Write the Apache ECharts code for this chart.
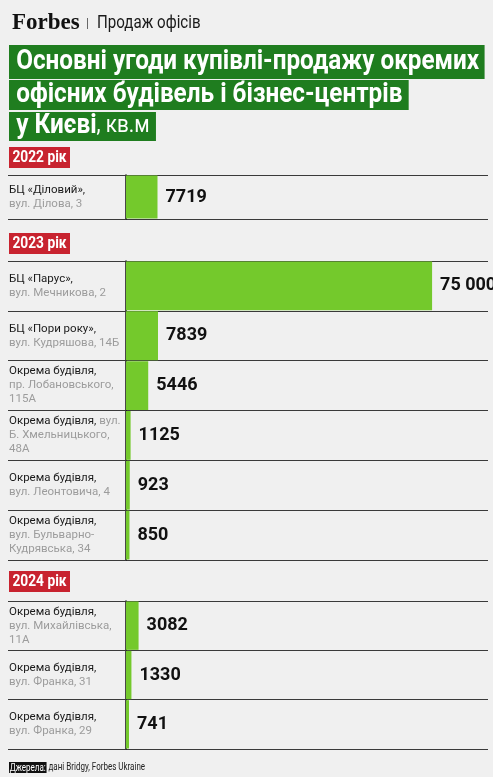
<!DOCTYPE html>
<html>
<head>
<meta charset="utf-8">
<script src="https://cdn.jsdelivr.net/npm/echarts@6.0.0/dist/echarts.min.js"></script>
<style>
html, body { margin: 0; padding: 0; background: #f0f0f0; }
#main { width: 493px; height: 777px; }
</style>
</head>
<body>
<div id="main"></div>
<script>
// дані по роках: назва об'єкта, адреса, площа (кв.м)
var years = ['2022 рік', '2023 рік', '2024 рік'];

var names2022 = ['БЦ «Діловий»,'];
var addr2022 = ['вул. Ділова, 3'];
var values2022 = [7719];

var names2023 = ['БЦ «Парус»,', 'БЦ «Пори року»,', 'Окрема будівля,', 'Окрема будівля,', 'Окрема будівля,', 'Окрема будівля,'];
var addr2023 = ['вул. Мечникова, 2', 'вул. Кудряшова, 14Б', 'пр. Лобановського,\n115А', 'вул.\nБ. Хмельницького,\n48А', 'вул. Леонтовича, 4', 'вул. Бульварно-\nКудрявська, 34'];
var inline2023 = [false, false, false, true, false, false];
var values2023 = [75000, 7839, 5446, 1125, 923, 850];

var names2024 = ['Окрема будівля,', 'Окрема будівля,', 'Окрема будівля,'];
var addr2024 = ['вул. Михайлівська,\n11А', 'вул. Франка, 31', 'вул. Франка, 29'];
var values2024 = [3082, 1330, 741];

var FONT = 'Roboto, sans-serif';
var NARROW = 0.88;     // вузький шрифт імітуємо стисненням по X
var AXIS_X = 126;      // де починаються стовпчики
var RIGHT_X = 488;     // кінець горизонтальних ліній
var X_MAX = 88700;     // так, щоб 75 000 закінчувалось біля 432px

var myChart = echarts.init(document.getElementById('main'));

function fmt(v) {
    if (v >= 10000) {
        return String(v).replace(/\B(?=(\d{3})+(?!\d))/g, ' ');
    }
    return String(v);
}

// підпис рядка: чорна назва + сіра адреса
function rowLabel(names, inline) {
    return function (value, index) {
        var lines = value.split('\n');
        var first = '{n|' + names[index] + '}';
        if (inline && inline[index]) {
            first += '{a| ' + lines.shift() + '}';
        }
        return [first].concat(lines.map(function (l) { return '{a|' + l + '}'; })).join('\n');
    }
}

function makeGrid(top, height) {
    return { left: AXIS_X, width: RIGHT_X - AXIS_X, top: top, height: height, outerBoundsMode: 'none', containLabel: false };
}

function makeXAxis(i) {
    return { gridIndex: i, type: 'value', min: 0, max: X_MAX, show: false };
}

function makeYAxis(i, addr, names, inline) {
    return {
        gridIndex: i,
        type: 'category',
        inverse: true,
        data: addr,
        axisLine: { show: true, lineStyle: { color: '#111', width: 1.5 } },
        axisTick: { show: true, interval: 0, length: AXIS_X - 8, lineStyle: { color: '#3a3a3a', width: 1 } },
        splitLine: { show: true, interval: 0, lineStyle: { color: '#3a3a3a', width: 1 } },
        axisLabel: {
            interval: 0,
            align: 'left',
            margin: AXIS_X - 9,
            formatter: rowLabel(names, inline),
            rich: {
                n: { color: '#1a1a1a', fontSize: 11.5, fontFamily: FONT, lineHeight: 14 },
                a: { color: '#9c9c9c', fontSize: 11.5, fontFamily: FONT, lineHeight: 14 }
            }
        }
    };
}

function makeSeries(i, values) {
    return {
        type: 'bar',
        xAxisIndex: i,
        yAxisIndex: i,
        data: values,
        barCategoryGap: '2%',
        itemStyle: { color: '#74c92c' },
        silent: true,
        label: {
            show: true,
            position: 'right',
            distance: 8,
            formatter: function (p) { return fmt(p.value); },
            color: '#111',
            fontSize: 18,
            fontWeight: 'bold',
            fontFamily: FONT
        }
    };
}

function yearTag(text, top) {
    return {
        type: 'text', left: 9, top: top, scaleX: 0.86,
        style: {
            text: text, fill: '#fff', font: 'bold 16px ' + FONT,
            backgroundColor: '#c8232f', padding: [3, 4, 2, 4]
        }
    };
}

var option = {
    backgroundColor: '#f0f0f0',
    animation: false,
    grid: [makeGrid(175, 44), makeGrid(261, 299), makeGrid(601, 148)],
    xAxis: [makeXAxis(0), makeXAxis(1), makeXAxis(2)],
    yAxis: [
        makeYAxis(0, addr2022, names2022),
        makeYAxis(1, addr2023, names2023, inline2023),
        makeYAxis(2, addr2024, names2024)
    ],
    series: [makeSeries(0, values2022), makeSeries(1, values2023), makeSeries(2, values2024)],
    graphic: [
        { type: 'text', left: 12, top: 12, style: { text: 'Forbes', fill: '#111', font: 'bold 23px "Liberation Serif", serif' } },
        { type: 'text', left: 86, top: 18, style: { text: '|', fill: '#555', font: '12px ' + FONT } },
        { type: 'text', left: 97, top: 14, scaleX: 0.84, style: { text: 'Продаж офісів', fill: '#1a1a1a', font: '18px ' + FONT } },
        // заголовок
        {
            type: 'text', left: 9, top: 45, scaleX: 0.9,
            style: {
                text: 'Основні угоди купівлі-продажу окремих', fill: '#fff', font: 'bold 27px ' + FONT,
                backgroundColor: '#1f7d1f', padding: [4, 6, 3, 8]
            }
        },
        {
            type: 'text', left: 9, top: 80, scaleX: 0.9,
            style: {
                text: 'офісних будівель і бізнес-центрів', fill: '#fff', font: 'bold 27px ' + FONT,
                backgroundColor: '#1f7d1f', padding: [2, 7, 1, 8]
            }
        },
        {
            type: 'text', left: 9, top: 112, scaleX: 0.9,
            style: {
                text: '{b|у Києві}{r|, кв.м}',
                backgroundColor: '#1f7d1f', padding: [1, 7, 1, 8],
                rich: {
                    b: { fill: '#fff', fontSize: 27, fontWeight: 'bold', fontFamily: FONT },
                    r: { fill: '#fff', fontSize: 23, fontFamily: FONT }
                }
            }
        },
        yearTag(years[0], 147),
        yearTag(years[1], 233),
        yearTag(years[2], 571),
        // джерело
        {
            type: 'text', left: 9, top: 762, scaleX: 0.8,
            style: {
                text: '{k|Джерела:}{v| дані Bridgy, Forbes Ukraine}',
                rich: {
                    k: { fill: '#fff', backgroundColor: '#111', fontSize: 10, fontFamily: FONT, padding: [1, 1, 0, 1] },
                    v: { fill: '#222', fontSize: 10, fontFamily: FONT }
                }
            }
        }
    ]
};

myChart.setOption(option);
</script>
</body>
</html>
